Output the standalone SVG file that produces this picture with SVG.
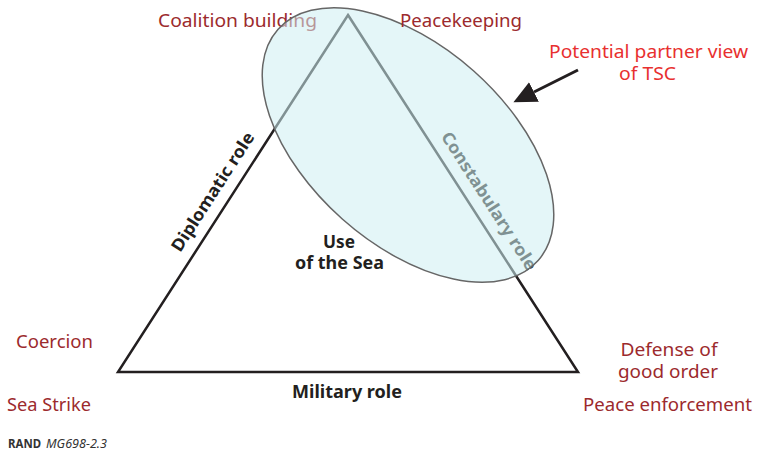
<svg xmlns="http://www.w3.org/2000/svg" width="757" height="452" viewBox="0 0 757 452">
  <style>
    .lbl { font-family: "Noto Sans", "Open Sans", "Liberation Sans", sans-serif; font-size: 18px; fill: #9c2a2d; }
    .red { font-family: "Noto Sans", "Open Sans", "Liberation Sans", sans-serif; font-size: 18px; fill: #e8302f; }
    .role { font-family: "Noto Sans", "Open Sans", "Liberation Sans", sans-serif; font-size: 17px; font-weight: bold; fill: #231f20; }
    .edge { fill: none; stroke: #231f20; stroke-width: 2.5; stroke-linejoin: miter; }
    .credit { font-family: "Noto Sans", "Open Sans", "Liberation Sans", sans-serif; font-size: 12px; fill: #333333; }
  </style>
  <defs>
    <marker id="head" markerUnits="userSpaceOnUse" markerWidth="24" markerHeight="22" refX="0" refY="11" orient="auto" viewBox="0 0 24 22">
      <path d="M0,0 L23,11 L0,22 z" fill="#231f20"/>
    </marker>
  </defs>
  <rect width="757" height="452" fill="#ffffff"/>

  <g id="triangle">
    <polygon class="edge" points="348,15 578,372 118,372"/>
  </g>

  <g id="under-labels">
    <text class="lbl" x="158" y="27" textLength="159" lengthAdjust="spacingAndGlyphs">Coalition building</text>
    <text class="role" transform="translate(484.1,204.1) rotate(57.2)" text-anchor="middle" textLength="161" lengthAdjust="spacingAndGlyphs">Constabulary role</text>
  </g>

  <g id="partner-view">
    <ellipse cx="408" cy="145" rx="174" ry="99" transform="rotate(41.6 408 145)" fill="#cdeef3" fill-opacity="0.55" stroke="#666666" stroke-width="1.5"/>
  </g>

  <g id="roles">
    <text class="role" transform="translate(217.7,195) rotate(-57.2)" text-anchor="middle" textLength="138" lengthAdjust="spacingAndGlyphs">Diplomatic role</text>
    <text class="role" x="347" y="398" text-anchor="middle" textLength="110" lengthAdjust="spacingAndGlyphs">Military role</text>
    <text class="role" x="339" y="248" text-anchor="middle" textLength="32" lengthAdjust="spacingAndGlyphs">Use</text>
    <text class="role" x="339.5" y="269" text-anchor="middle" textLength="89" lengthAdjust="spacingAndGlyphs">of the Sea</text>
  </g>

  <g id="labels">
    <text class="lbl" x="400" y="27" textLength="122" lengthAdjust="spacingAndGlyphs">Peacekeeping</text>
    <text class="lbl" x="16" y="348" textLength="77" lengthAdjust="spacingAndGlyphs">Coercion</text>
    <text class="lbl" x="7" y="411" textLength="84" lengthAdjust="spacingAndGlyphs">Sea Strike</text>
    <text class="lbl" x="669" y="356" text-anchor="middle" textLength="97" lengthAdjust="spacingAndGlyphs">Defense of</text>
    <text class="lbl" x="668" y="378" text-anchor="middle" textLength="100" lengthAdjust="spacingAndGlyphs">good order</text>
    <text class="lbl" x="583" y="411" textLength="169" lengthAdjust="spacingAndGlyphs">Peace enforcement</text>
  </g>

  <g id="callout">
    <text class="red" x="648.5" y="58" text-anchor="middle" textLength="199" lengthAdjust="spacingAndGlyphs">Potential partner view</text>
    <text class="red" x="647.5" y="80" text-anchor="middle" textLength="57" lengthAdjust="spacingAndGlyphs">of TSC</text>
  </g>

  <g id="connectors">
    <line x1="578" y1="70" x2="534" y2="92" stroke="#231f20" stroke-width="3" marker-end="url(#head)"/>
  </g>

  <g id="credit">
    <text class="credit" x="8" y="448" font-weight="bold" textLength="33" lengthAdjust="spacingAndGlyphs">RAND</text>
    <text class="credit" x="46" y="448" font-style="italic" textLength="61" lengthAdjust="spacingAndGlyphs">MG698-2.3</text>
  </g>
</svg>
